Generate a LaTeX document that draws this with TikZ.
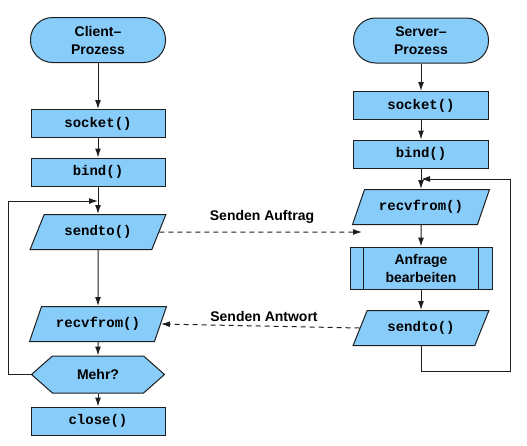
\documentclass[tikz,border=0pt]{standalone}
\usepackage{fontspec}
\setmainfont{Liberation Sans}
\newfontfamily\codefont{Liberation Mono}
\usetikzlibrary{shapes.geometric,shapes.symbols,arrows.meta}
\definecolor{fillblue}{RGB}{136,204,250}
\definecolor{edgegray}{RGB}{30,30,30}
\begin{document}
\begin{tikzpicture}[x=1pt,y=-1pt,
  base/.style={draw=edgegray, line width=1pt, fill=fillblue, inner sep=0pt},
  sansfont/.style={font=\fontsize{14}{18}\selectfont\bfseries},
  codef/.style={font=\codefont\fontsize{14}{16}\selectfont\bfseries},
  term/.style={base, rectangle, rounded corners=22pt, minimum width=135pt, minimum height=45pt, align=center, sansfont},
  proc/.style={base, rectangle, minimum width=134pt, minimum height=28pt, codef},
  iobox/.style={base, trapezium, trapezium left angle=56, trapezium right angle=124, trapezium stretches=true, minimum width=137pt, minimum height=35pt, codef},
  decision/.style={base, signal, signal to=east and west, signal pointer angle=83, minimum width=133pt, minimum height=37pt, sansfont},
  predef/.style={base, rectangle, minimum width=142pt, minimum height=42pt, align=center, sansfont},
  lbl/.style={sansfont, inner sep=0pt},
  arr/.style={draw=edgegray, line width=1pt, -{Latex[length=9pt,width=6pt]}},
  dasharr/.style={arr, dash pattern=on 5pt off 4pt}
]
\useasboundingbox (0,0) rectangle (527,445);

% client column
\node[term] (ct) at (98,40) {Client\textendash\\Prozess};
\node[proc] (cs) at (98,123.5) {socket()};
\node[proc] (cb) at (98,172) {bind()};
\node[iobox] (csend) at (98,232) {sendto()};
\node[iobox] (crecv) at (98,324) {recvfrom()};
\node[decision] (mehr) at (98,374.5) {Mehr?};
\node[proc] (cc) at (98,421) {close()};

% server column
\node[term] (st) at (421,40.5) {Server\textendash\\Prozess};
\node[proc, minimum width=135pt] (ss) at (421,105.5) {socket()};
\node[proc, minimum width=135pt] (sb) at (421,154) {bind()};
\node[iobox] (srecv) at (421,207) {recvfrom()};
\node[predef] (anf) at (421,268) {Anfrage\\bearbeiten};
\draw[edgegray, line width=1pt] ([xshift=14pt]anf.north west) -- ([xshift=14pt]anf.south west);
\draw[edgegray, line width=1pt] ([xshift=-14pt]anf.north east) -- ([xshift=-14pt]anf.south east);
\node[iobox] (ssend) at (421,328) {sendto()};

% client arrows
\draw[arr] (ct) -- (cs);
\draw[arr] (cs) -- (cb);
\draw[arr] (cb) -- (csend);
\draw[arr] (csend) -- (crecv);
\draw[arr] (crecv) -- (mehr);
\draw[arr] (mehr) -- (cc);
\coordinate (cl) at (98,201);
\draw[arr] (mehr.west) -- ++(-22,0) |- (cl);

% server arrows
\draw[arr] (st) -- (ss);
\draw[arr] (ss) -- (sb);
\draw[arr] (sb) -- (srecv);
\draw[arr] (srecv) -- (anf);
\draw[arr] (anf) -- (ssend);
\coordinate (sl) at (421,179);
\coordinate (sc) at (510,371);
\draw[arr] (ssend.south) |- (sc) |- (sl);

% messages
\coordinate (auftragEnd) at (362,232);
\draw[dasharr] (csend.east) -- (auftragEnd);
\node[lbl] (la) at (262,217) {Senden Auftrag};
\draw[dasharr] (ssend.west) -- (crecv.east);
\node[lbl] (lb) at (264,316) {Senden Antwort};
\end{tikzpicture}
\end{document}
